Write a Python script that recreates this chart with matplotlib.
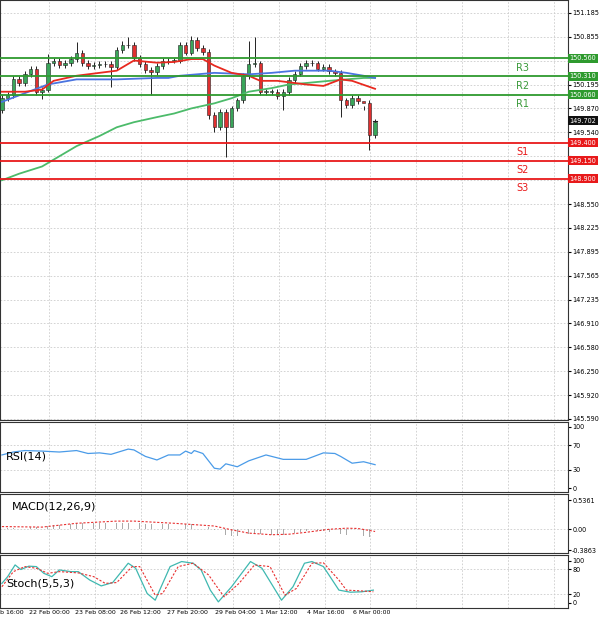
import matplotlib
matplotlib.use("Agg")
import matplotlib.pyplot as plt
import matplotlib.transforms as mtrans

first_open = 149.85
closes = [150.01,150.06,150.28,150.22,150.34,150.41,150.10,150.13,150.50,150.52,
          150.47,150.50,150.55,150.64,150.50,150.45,150.47,150.48,150.48,150.44,
          150.67,150.74,150.75,150.57,150.48,150.40,150.37,150.45,150.52,150.53,
          150.53,150.74,150.64,150.81,150.70,150.65,149.78,149.61,149.82,149.62,
          149.87,149.98,150.32,150.48,150.49,150.10,150.10,150.10,150.04,150.10,
          150.26,150.35,150.45,150.50,150.49,150.42,150.44,150.38,150.36,149.98,
          149.92,150.02,149.97,149.95,149.50,149.68]
high_override = {8: 150.62, 13: 150.78, 21: 150.80, 22: 150.86, 33: 150.87, 43: 150.80, 44: 150.86, 31: 150.78, 63: 149.85, 65: 149.72}
low_override = {0: 149.80, 7: 150.00, 19: 150.16, 26: 150.06, 36: 149.72, 37: 149.55, 39: 149.20, 40: 149.75, 49: 149.85, 59: 149.75, 64: 149.30}

red_x = [0,4,7,9,13,17,20,23,27,30,33,35,37,40,43,45,48,51,53,56,59,61,65]
red_y = [150.10,150.10,150.13,150.25,150.32,150.36,150.39,150.53,150.50,150.51,150.55,150.55,150.46,150.36,150.32,150.25,150.25,150.22,150.20,150.18,150.27,150.25,150.14]
blue_x = [0,4,8,13,20,27,29,31,37,43,47,51,57,60,63,65]
blue_y = [149.96,150.08,150.20,150.27,150.27,150.29,150.29,150.32,150.36,150.34,150.36,150.39,150.39,150.36,150.32,150.29]
green_x = [0,3,7,10,13,17,20,23,27,30,33,37,40,43,47,50,53,57,60,63,65]
green_y = [148.88,148.97,149.07,149.21,149.35,149.49,149.61,149.68,149.75,149.80,149.87,149.94,150.01,150.10,150.15,150.20,150.22,150.25,150.27,150.29,150.29]

levels = [150.56, 150.31, 150.06, 149.40, 149.15, 148.90]
level_names = ["R3", "R2", "R1", "S1", "S2", "S3"]
current_price = 149.702
price_ticks = [151.185,150.855,150.525,150.195,149.870,149.540,149.210,148.880,148.550,148.225,
               147.895,147.565,147.235,146.910,146.580,146.250,145.920,145.590]

rsi_x = [0,2,4,7,10,13,15,17,19,22,23,25,27,29,31,32,33,33.5,35,37,38,39,41,43,46,49,53,56,58,59,61,63,65]
rsi_y = [54.1,58.9,61.3,60.4,58.9,61.3,56.5,57.5,55.1,63.7,62.3,51.7,45.9,54.1,54.1,60.4,56.5,61.3,56.5,32.4,31.0,39.6,34.8,44.5,54.1,46.9,46.9,57.5,56.5,51.7,40.6,43.0,38.2]

macd_hist = [0.02,0.02,0.03,0.03,0.03,0.04,0.04,0.05,0.06,0.07,
             0.08,0.09,0.10,0.11,0.11,0.12,0.12,0.12,0.12,0.12,
             0.12,0.12,0.12,0.12,0.11,0.10,0.10,0.10,0.10,0.10,
             0.10,0.10,0.10,0.10,0.10,0.09,0.04,-0.02,-0.06,-0.10,
             -0.12,-0.12,-0.10,-0.08,-0.07,-0.09,-0.10,-0.11,-0.11,-0.10,
             -0.09,-0.07,-0.05,-0.03,-0.02,-0.03,-0.04,-0.05,-0.06,-0.09,
             -0.10,-0.08,-0.10,-0.12,-0.14,-0.13]
sig_x = [0,7,13,20,23,30,37,40,43,47,50,53,57,60,62,65]
sig_y = [0.05,0.04,0.11,0.15,0.15,0.11,0.06,-0.01,-0.07,-0.10,-0.09,-0.055,0.0,0.02,0.015,-0.04]

stk_x = [0,1,2.3,3.3,4.7,6,7.3,8.7,10,12,13.3,15.3,17.3,19.3,22,23.3,25.3,26.7,29.3,31.3,33.3,34.7,36.3,37.7,40,43.3,45.3,48.7,50.7,52.7,54,56,58.7,60.7,62.7,64.7]
stk_y = [46,62,90,79,87,86,70,62,78,74,74,54,40,48,94,82,22,6,86,98,94,78,30,2,38,98,82,6,38,94,98,86,30,25,26,30]
std_x = [0,2,4,6,8,10,13.3,16,18,20,22.7,24,26.7,28,30.7,33.3,36,38.7,41.3,44,46.7,49.3,51.3,54,56,58.7,60,62.7,64.7]
std_y = [38,74,86,82,70,74,71,62,46,48,86,86,18,22,86,94,66,14,46,90,86,18,34,94,95,54,30,28,26]

xticks_pos = [-0.3,8.2,16.2,24.2,32.3,40.6,48.2,56.4,64.4]
xtick_labels = ["b 16:00","22 Feb 00:00","23 Feb 08:00","26 Feb 12:00","27 Feb 20:00","29 Feb 04:00","1 Mar 12:00","4 Mar 16:00","6 Mar 00:00"]

GREEN = "#2e9a2e"; RED = "#e8191a"; CUP = "#3aa55a"; CDN = "#e03030"
fig = plt.figure(figsize=(6, 6.22), dpi=100)
W = 568/600
ax = fig.add_axes([0, 1-420/622, W, 420/622])
ax_r = fig.add_axes([0, 1-492/622, W, 70/622])
ax_m = fig.add_axes([0, 1-553/622, W, 59/622])
ax_s = fig.add_axes([0, 1-608/622, W, 53/622])
XL = (-0.33, 98.6)
grid_x = [8.2 + 8*k for k in range(12)]
for a in (ax, ax_r, ax_m, ax_s):
    a.set_xlim(*XL)
    a.yaxis.tick_right()
    a.tick_params(axis='y', labelsize=4.7, length=2, pad=1)
    a.tick_params(axis='x', length=0)
    a.set_xticks([])
    for gx in grid_x:
        a.axvline(gx, color="#cccccc", ls=(0, (2, 2)), lw=0.6, zorder=0)
    for s in a.spines.values():
        s.set_color("#333333"); s.set_linewidth(0.8)

# main
ax.set_ylim(145.576, 151.364)
ax.set_yticks(price_ticks)
ax.set_yticklabels([("" if any(abs(t - lv) < 0.08 for lv in levels + [current_price]) else f"{t:.3f}") for t in price_ticks])
for t in price_ticks:
    ax.axhline(t, color="#cccccc", ls=(0, (2, 2)), lw=0.6, zorder=0)
opens = [first_open] + closes[:-1]
for i, (o, c) in enumerate(zip(opens, closes)):
    h = high_override.get(i, max(o, c) + 0.04)
    l = low_override.get(i, min(o, c) - 0.04)
    col = CUP if c >= o else CDN
    ax.vlines(i, l, h, color="#222222", lw=0.7, zorder=3)
    ax.bar(i, max(abs(c-o), 0.006), bottom=min(o, c), width=0.6, color=col, edgecolor="#222222", linewidth=0.4, zorder=4)
ax.plot(green_x, green_y, color="#4cbb6a", lw=1.3, zorder=5)
ax.plot(blue_x, blue_y, color="#4a74e0", lw=1.3, zorder=5)
ax.plot(red_x, red_y, color="#e8291f", lw=1.3, zorder=5)
btr = mtrans.blended_transform_factory(ax.transAxes, ax.transData)
for lv, nm in zip(levels, level_names):
    col = GREEN if nm.startswith("R") else RED
    ax.axhline(lv, color=col, lw=1.3, zorder=6)
    ax.text(1.003, lv, f"{lv:.3f}", transform=btr, fontsize=4.7, color="white", va="center", ha="left",
            bbox=dict(boxstyle="square,pad=0.2", fc=col, ec="none"), zorder=10, clip_on=False)
    ax.text(90.6, lv - 0.06, nm, fontsize=7, color=col if nm.startswith("S") else "#3a9a3a", va="top", ha="center")
ax.text(1.003, current_price, f"{current_price:.3f}", transform=btr, fontsize=4.7, color="white", va="center",
        ha="left", bbox=dict(boxstyle="square,pad=0.2", fc="#111111", ec="none"), zorder=10, clip_on=False)
ax.plot([64.7, 65.3], [current_price, current_price], color="#222222", lw=0.8)

# RSI
ax_r.set_ylim(-6.5, 108)
ax_r.set_yticks([100, 70, 30, 0])
for t in (70, 30):
    ax_r.axhline(t, color="#cccccc", ls=(0, (2, 2)), lw=0.6, zorder=0)
ax_r.plot(rsi_x, rsi_y, color="#4a9be8", lw=0.9)
ax_r.text(0.7, 52, "RSI(14)", fontsize=8, va="center")

# MACD
ax_m.set_ylim(-0.434, 0.646)
ax_m.set_yticks([0.5361, 0.0, -0.3863])
ax_m.set_yticklabels(["0.5361", "0.00", "-0.3863"])
ax_m.axhline(0, color="#cccccc", ls=(0, (2, 2)), lw=0.6, zorder=0)
ax_m.bar(range(len(macd_hist)), macd_hist, width=0.12, color="#aaaaaa")
ax_m.plot(sig_x, sig_y, color="#e83030", lw=0.8, ls=(0, (2, 1.5)))
ax_m.text(1.7, 0.42, "MACD(12,26,9)", fontsize=8, va="center")

# Stoch
ax_s.set_ylim(-12.6, 113.6)
ax_s.set_yticks([100, 80, 20, 0])
for t in (80, 20):
    ax_s.axhline(t, color="#cccccc", ls=(0, (2, 2)), lw=0.6, zorder=0)
ax_s.plot(stk_x, stk_y, color="#3fb8b0", lw=0.9)
ax_s.plot(std_x, std_y, color="#e83030", lw=0.8, ls=(0, (2, 1.5)))
ax_s.text(0.7, 46, "Stoch(5,5,3)", fontsize=8, va="center")
for p, lab in zip(xticks_pos, xtick_labels):
    ax_s.text(p, -17, lab, fontsize=4.5, ha="left" if p < 0 else "center", va="top", clip_on=False)

fig.savefig("out.png", dpi=100)
